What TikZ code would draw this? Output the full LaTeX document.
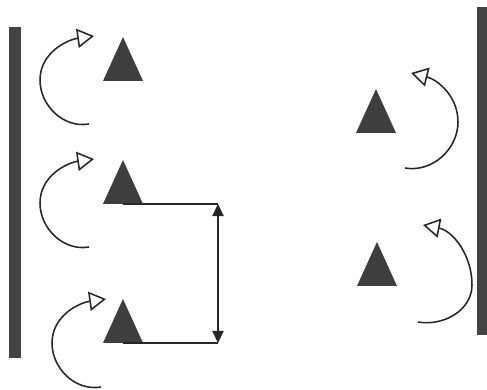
\documentclass[tikz,border=0pt]{standalone}
\usetikzlibrary{arrows.meta,shapes.geometric}
\definecolor{BarGrey}{HTML}{444444}
\definecolor{TriGrey}{HTML}{3E3E3E}
\definecolor{LineInk}{HTML}{262626}

\begin{document}
\begin{tikzpicture}[x=0.025cm,y=0.025cm,
  wall/.style={fill=BarGrey,draw=none},
  tri/.style={isosceles triangle,isosceles triangle stretches,shape border rotate=90,minimum width=1cm,minimum height=1.1cm,inner sep=0pt,outer sep=0pt,fill=TriGrey,draw=none,anchor=south},
  spin/.style={draw=LineInk,line width=1.1pt,-{Triangle[open,length=0.42cm,width=0.48cm,line width=1.1pt]}},
  ext/.style={draw=LineInk,line width=0.9pt},
  dim/.style={draw=LineInk,line width=0.9pt,{Triangle[length=0.3cm,width=0.28cm]}-{Triangle[length=0.3cm,width=0.28cm]}}
]
\useasboundingbox (0,0) rectangle (487,389);
% walls
\fill[wall] (9,31) rectangle (21,362);
\fill[wall] (477,54) rectangle (489,382);
% particles (placed by the middle of their base)
\node[tri] (t1) at (123,308) {};
\node[tri] (t2) at (123,185) {};
\node[tri] (t3) at (123,46) {};
\node[tri] (t4) at (376,256) {};
\node[tri] (t5) at (377,103) {};
% spin near the left wall
\draw[spin] (89,265) to[out=190,in=-90] (40,309) to[out=90,in=188] (94,353);
\draw[spin] (89,142) to[out=190,in=-90] (40,186) to[out=90,in=188] (94,230);
\draw[spin] (101,2) to[out=190,in=-90] (52,46) to[out=90,in=188] (106,90);
% spin near the right wall
\draw[spin] (405,221) to[out=-10,in=-90] (458,267) to[out=90,in=-14] (411,316);
\draw[spin] (418,67) to[out=-10,in=-90] (472,104) to[out=90,in=-11] (423,164);
% spacing
\coordinate (d1) at (t2.south -| 218,0);
\coordinate (d2) at (t3.south -| 218,0);
\draw[ext] (t2.south) -- (d1);
\draw[ext] (t3.south) -- (d2);
\draw[dim] (d1) -- (d2);
\end{tikzpicture}
\end{document}
